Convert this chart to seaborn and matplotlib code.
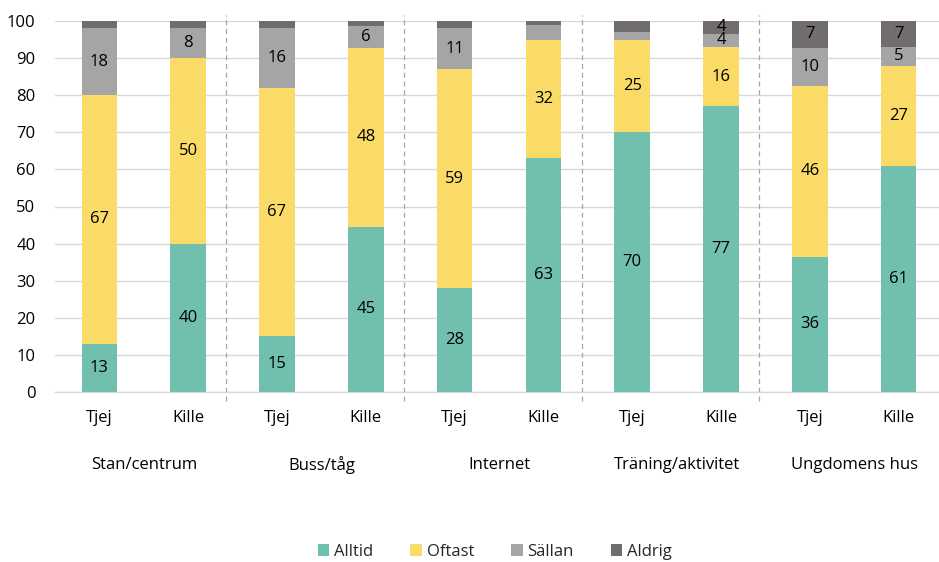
import numpy as np
import pandas as pd
import seaborn as sns
import matplotlib.pyplot as plt
from matplotlib.patches import Patch
from matplotlib import transforms

# data
groups = ['Stan/centrum', 'Buss/tåg', 'Internet', 'Träning/aktivitet', 'Ungdomens hus']
genders = ['Tjej', 'Kille']
series = ['Alltid', 'Oftast', 'Sällan', 'Aldrig']

alltid = [13, 40, 15, 44.6, 28, 63, 70, 77, 36.4, 61]
oftast = [67, 50, 67, 48, 59, 32, 25, 16, 46.1, 27]
sallan = [18, 8, 16, 6, 11, 4, 2, 3.5, 10.3, 5]
aldrig = [2, 2, 2, 1.4, 2, 1, 3, 3.5, 7.2, 7]

# which segments get a value label
show_sallan = [True, True, True, True, True, False, False, True, True, True]
show_aldrig = [False, False, False, False, False, False, False, True, True, True]

colors = ['#71BFAF', '#FADB68', '#A5A5A5', '#716D6C']

sns.set_theme(style='white')
plt.rcParams['font.family'] = ['Open Sans', 'DejaVu Sans']

df = pd.DataFrame({'pos': range(10), 'Alltid': alltid, 'Oftast': oftast,
                   'Sällan': sallan, 'Aldrig': aldrig})
cum = df[series].cumsum(axis=1)

fig = plt.figure(figsize=(9.39, 5.62), dpi=100)
ax = fig.add_axes([55 / 939, 1 - 392 / 562, 888 / 939, 371 / 562])

# stacked bars: draw cumulative totals from the top segment down
for s, c in reversed(list(zip(series, colors))):
    sns.barplot(x=df['pos'], y=cum[s], color=c, width=0.4, saturation=1,
                linewidth=0, edgecolor='none', ax=ax, zorder=3)

# value labels
for i in range(10):
    segs = [(alltid[i], True), (oftast[i], True), (sallan[i], show_sallan[i]),
            (aldrig[i], show_aldrig[i])]
    bottom = 0
    for v, show in segs:
        if show:
            ax.text(i, bottom + v / 2, f'{v:.0f}', ha='center', va='center',
                    fontsize=12, color='black', zorder=5)
        bottom += v

ax.set_ylim(0, 100)
ax.set_xlim(-0.5, 9.5)
ax.set_yticks(range(0, 101, 10))
ax.yaxis.grid(True, color='#D9D9D9', linewidth=1)
ax.set_axisbelow(True)
for sp in ['left', 'right', 'top']:
    ax.spines[sp].set_visible(False)
ax.spines['bottom'].set_color('#D9D9D9')
ax.spines['bottom'].set_linewidth(1)
ax.set_xlabel('')
ax.set_ylabel('')
ax.set_xticks(range(10))
ax.set_xticklabels(genders * 5)
ax.tick_params(axis='x', length=0, pad=13, labelsize=12, colors='black')
ax.tick_params(axis='y', length=0, pad=14, labelsize=12, colors='black')

# dashed group separators
trans = transforms.blended_transform_factory(ax.transData, ax.transAxes)
for k in range(4):
    xs = 2 * k + 1.43
    ax.plot([xs, xs], [-0.025, 1.015], transform=trans, color='#A6A6A6',
            linestyle=(0, (4, 3)), linewidth=0.9, clip_on=False, zorder=1)

# group labels
for k, g in enumerate(groups):
    ax.text(2 * k + 0.5, -0.197, g, transform=trans, ha='center', va='center',
            fontsize=12, color='black')

handles = [Patch(facecolor=c, edgecolor='none', label=s) for s, c in zip(series, colors)]
fig.legend(handles=handles, loc='center', bbox_to_anchor=(495 / 939, 1 - 552 / 562),
           ncol=4, frameon=False, fontsize=12, handlelength=0.7, handleheight=0.7,
           handletextpad=0.3, columnspacing=2.2)

fig.savefig('out.png', dpi=100)
